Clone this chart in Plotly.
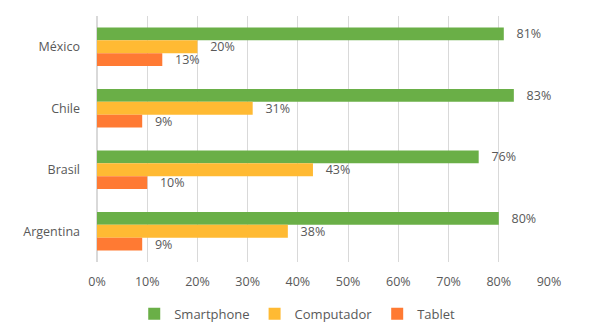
import plotly.graph_objects as go

countries = ["México", "Chile", "Brasil", "Argentina"]
smartphone = [81, 83, 76, 80]
computador = [20, 31, 43, 38]
tablet = [13, 9, 10, 9]
series_names = ["Smartphone", "Computador", "Tablet"]
colors = ["#6AAF47", "#FFBA33", "#FF7A33"]
x_ticks = [0, 10, 20, 30, 40, 50, 60, 70, 80, 90]

font_color = "#595959"
fig = go.Figure()
for name, vals, col in zip(series_names, [smartphone, computador, tablet], colors):
    fig.add_trace(go.Bar(
        y=countries, x=vals, name=name, orientation="h",
        marker=dict(color=col, line=dict(width=0)),
        text=[f"   {v}%" for v in vals], textposition="outside", constraintext="none",
        textfont=dict(size=12.5, color=font_color, family="Open Sans"),
        cliponaxis=False, hoverinfo="skip",
    ))

# page body has an 8px margin, so the figure is 8px smaller on each axis
fig.update_layout(
    width=595, height=327,
    margin=dict(l=89, r=54, t=8, b=73, autoexpand=False),
    paper_bgcolor="white", plot_bgcolor="white",
    barmode="group", bargap=0.37, bargroupgap=0,
    font=dict(family="Open Sans", size=12, color=font_color),
    showlegend=True,
    legend=dict(orientation="h", x=0.443, xanchor="center", y=-0.211, yanchor="middle",
                font=dict(size=13, color=font_color), itemwidth=30, traceorder="normal"),
)
fig.update_xaxes(
    range=[0, 90], tickvals=x_ticks, ticktext=[f"{v}%" for v in x_ticks],
    showgrid=True, gridcolor="#D9D9D9", gridwidth=1,
    zeroline=True, zerolinecolor="#D9D9D9", showline=False, automargin=False,
    ticks="", ticklabelstandoff=10, tickfont=dict(size=12.5, color=font_color),
)
fig.update_yaxes(
    categoryorder="array", categoryarray=countries, autorange="reversed",
    showgrid=False, showline=False, zeroline=False, ticks="", automargin=False,
    ticklabelstandoff=16, tickfont=dict(size=12.5, color=font_color),
)
fig.write_html("out.html")
